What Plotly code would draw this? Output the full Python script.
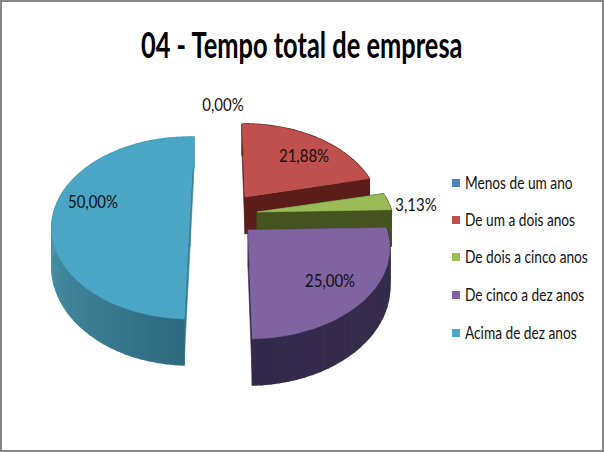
import math
import plotly.graph_objects as go

categories = ["Menos de um ano", "De um a dois anos", "De dois a cinco anos", "De cinco a dez anos", "Acima de dez anos"]
values = [0.0, 21.88, 3.13, 25.0, 50.0]
value_labels = ["0,00%", "21,88%", "3,13%", "25,00%", "50,00%"]
colors = ["#4f81bd", "#c0504d", "#9bbb59", "#8064a2", "#4aa6c4"]
title_text = "04 - Tempo total de empresa"

# exploded pie centres and projection settings, in page pixels
apex_x = [225, 245, 257, 248, 190]
apex_y = [190, 197, 212, 230, 210]
radius = [137, 133, 135, 139, 135.5]
slice_turn = [0, 0, 0, 0, 3.5]
label_x = [223, 304, 416, 330, 93]
label_y = [107, 158, 207, 283, 204]
legend_y = [183, 220, 257, 295, 333]
legend_text_y = [185, 222, 259, 297, 335]
wall_stops = [
    [(0, "#4f81bd"), (1, "#4f81bd")],
    [(0, "#5a1d1a"), (1, "#5a1d1a")],
    [(0, "#45541f"), (1, "#45541f")],
    [(0, "#33294a"), (0.5, "#372c4c"), (1, "#33294a")],
    [(0, "#2d6a80"), (0.25, "#3f8197"), (0.5, "#4a97ad"), (1, "#4a9fb9")],
]
side_colors = ["#4f81bd", "#5a1d1a", "#45541f", "#33294a", "#3a7f96"]
S, K, DEPTH = 87.4, 0.198, 37.0
START = -1.5
FONT = "Lato"


def project(i, deg):
    a = math.radians(deg)
    u, v = math.sin(a), -math.cos(a)
    w = 1 - K * v
    return apex_x[i] + radius[i] * u / w, apex_y[i] + S * v / w, DEPTH / w


def hex_mix(stops, f):
    for (f0, c0), (f1, c1) in zip(stops, stops[1:]):
        if f <= f1:
            t = (f - f0) / (f1 - f0)
            ch = [round(int(c0[k:k + 2], 16) * (1 - t) + int(c1[k:k + 2], 16) * t) for k in (1, 3, 5)]
            return "rgb(%d,%d,%d)" % tuple(ch)
    return stops[-1][1]


def poly(fig, xs, ys, color, width=0.6):
    fig.add_trace(go.Scatter(x=xs + xs[:1], y=ys + ys[:1], mode="lines", fill="toself", fillcolor=color,
                             line=dict(color=color, width=width), hoverinfo="skip", showlegend=False))


fig = go.Figure()
order = [4, 1, 2, 3]
starts = {}
acc = START
for i, val in enumerate(values):
    starts[i] = (acc + slice_turn[i], acc + val * 3.6 + slice_turn[i])
    acc += val * 3.6

for i in order:
    a0, a1 = starts[i]
    n = max(4, int((a1 - a0) / 3))
    for a in (a0, a1):
        x, y, d = project(i, a)
        poly(fig, [apex_x[i], x, x, apex_x[i]], [apex_y[i], y, y + d, apex_y[i] + DEPTH], side_colors[i])
    for k in range(n):
        b0 = a0 + (a1 - a0) * k / n
        b1 = a0 + (a1 - a0) * (k + 1) / n
        x0, y0, d0 = project(i, b0)
        x1, y1, d1 = project(i, b1)
        poly(fig, [x0, x1, x1, x0], [y0, y1, y1 + d1, y0 + d0], hex_mix(wall_stops[i], (k + 0.5) / n), width=1.5)
    pts = [project(i, a0 + (a1 - a0) * k / 60) for k in range(61)]
    poly(fig, [apex_x[i]] + [p[0] for p in pts], [apex_y[i]] + [p[1] for p in pts], colors[i])

fig.add_trace(go.Scatter(x=label_x, y=label_y, mode="text", text=value_labels, textposition="middle center",
                         textfont=dict(family=FONT, size=17, color="#111111"),
                         hoverinfo="skip", showlegend=False))
fig.add_trace(go.Scatter(x=[456] * 5, y=legend_y, mode="markers",
                         marker=dict(symbol="square", size=8, color=colors), hoverinfo="skip", showlegend=False))
fig.add_trace(go.Scatter(x=[465] * 5, y=legend_text_y, mode="text", text=categories, textposition="middle right",
                         textfont=dict(family=FONT, size=16.5, color="#111111"),
                         hoverinfo="skip", showlegend=False))
fig.add_annotation(x=301, y=44, text="<b>%s</b>" % title_text, showarrow=False,
                   font=dict(family=FONT, size=36, color="#000000"))
fig.add_shape(type="rect", xref="x", yref="y", x0=1, y0=1, x1=603, y1=451, line=dict(color="#868686", width=2))
fig.update_layout(width=604, height=452, margin=dict(l=0, r=0, t=0, b=0), paper_bgcolor="white", plot_bgcolor="white",
                  showlegend=False,
                  xaxis=dict(range=[0, 604], visible=False, fixedrange=True),
                  yaxis=dict(range=[452, 0], visible=False, fixedrange=True))
squeeze = """
document.body.style.margin='0';
document.querySelectorAll('svg text').forEach(function(t){
  var s = t.textContent;
  var scale = s.indexOf('Tempo') >= 0 ? 0.706 : (s.indexOf('%') >= 0 ? 0.88 : 0.83);
  var isLegend = s.indexOf('ano') >= 0 && s.indexOf('Tempo') < 0;
  t.style.transformBox = 'fill-box';
  t.style.transformOrigin = isLegend ? 'left center' : 'center center';
  t.style.transform = 'scaleX(' + scale + ')';
});
"""
fig.write_html("out.html", post_script=squeeze, config=dict(displayModeBar=False))
